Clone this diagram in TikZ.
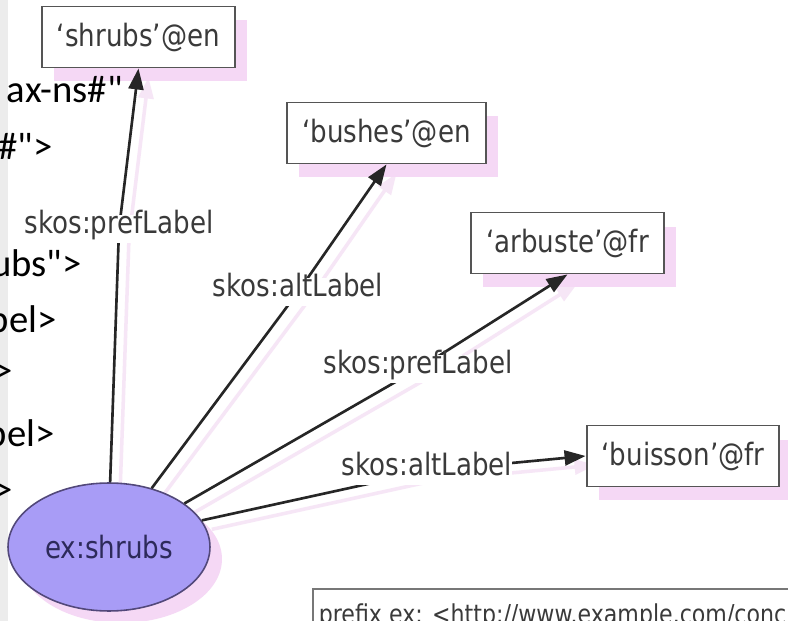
\documentclass[tikz,border=0pt]{standalone}
\usepackage{fontspec}
\setsansfont{DejaVu Sans}[FakeStretch=0.85]
\newfontfamily\codefont{Carlito}
\usepackage{tikz}
\usetikzlibrary{positioning, arrows.meta, shapes.geometric, shadows}

\definecolor{conceptfill}{RGB}{168,156,246}
\definecolor{conceptline}{RGB}{82,72,122}
\definecolor{conceptink}{RGB}{45,42,90}
\definecolor{shadowpink}{RGB}{245,216,245}
\definecolor{linkpink}{RGB}{246,230,246}
\definecolor{boxline}{RGB}{85,85,85}
\definecolor{inkgray}{RGB}{58,58,58}
\definecolor{panelgray}{RGB}{236,236,236}

\pgfdeclarelayer{back}
\pgfdeclarelayer{front}
\pgfsetlayers{back,main,front}

\tikzset{
  code/.style={anchor=base east, inner sep=0pt, text=black,
    font=\codefont\fontsize{22}{26}\selectfont},
  literal/.style={draw=boxline, line width=1.1pt, fill=white,
    inner xsep=0.3cm, minimum height=1.22cm, text=inkgray,
    font=\sffamily\fontsize{17.5}{21}\selectfont,
    drop shadow={shadow xshift=0.24cm, shadow yshift=-0.28cm,
      fill=shadowpink, opacity=1}},
  concept/.style={ellipse, draw=conceptline, line width=0.9pt,
    fill=conceptfill, minimum width=4.04cm, minimum height=2.56cm,
    text=conceptink, font=\sffamily\fontsize{17.5}{21}\selectfont,
    drop shadow={shadow xshift=0.24cm, shadow yshift=-0.24cm,
      fill=shadowpink, opacity=1}},
  prop/.style={fill=white, inner xsep=0pt, inner ysep=0.1cm,
    text height=0.8em, text depth=0.25em, text=inkgray,
    font=\sffamily\fontsize{17.5}{21}\selectfont},
  link/.style={draw=black!85, line width=1.5pt,
    -{Triangle[length=0.42cm, width=0.3cm]}},
  linkshade/.style={draw=linkpink, line width=2pt,
    -{Triangle[length=0.42cm, width=0.3cm]},
    transform canvas={xshift=0.2cm, yshift=-0.18cm}},
  prefixbox/.style={draw=boxline!80, line width=0.9pt, fill=white,
    inner xsep=0.12cm, inner ysep=0.3cm, text=inkgray,
    font=\sffamily\fontsize{14.8}{18}\selectfont}
}

\begin{document}
\begin{tikzpicture}[x=0.02cm, y=-0.02cm]
  % page and the grey strip at the left edge
  \begin{pgfonlayer}{back}
    \fill[white] (0,0) rectangle (788,621);
    \fill[panelgray] (0,0) rectangle (8,621);
  \end{pgfonlayer}
  \useasboundingbox (0,0) rectangle (788,621);

  % literals
  \node[literal] (shrubsEn) at (138.5,37) {‘shrubs’@en};
  \node[literal] (bushesEn) at (386.5,133) {‘bushes’@en};
  \node[literal] (arbusteFr) at (567.5,243) {‘arbuste’@fr};
  \node[literal] (buissonFr) at (683,456) {‘buisson’@fr};

  % the concept
  \node[concept] (ex) at (109,547) {ex:shrubs};

  % property names, kept above the links
  \begin{pgfonlayer}{front}
    \node[prop] (pref1) at (119,229) {skos:prefLabel};
    \node[prop] (alt1) at (298,292) {skos:altLabel};
    \node[prop] (pref2) at (418,369) {skos:prefLabel};
    \node[prop] (alt2) at (427,471) {skos:altLabel};
  \end{pgfonlayer}

  % ends of the RDF/XML lines
  \begin{pgfonlayer}{front}
    \node[code] (ln1) at (123,103) {ax-ns\#"};
    \node[code] (ln2) at (53,160) {\#">};
    \node[code] (ln3) at (82,277) {ubs">};
    \node[code] (ln4) at (57,333) {bel>};
    \node[code] (ln5) at (13,384) {>};
    \node[code] (ln6) at (55,447) {bel>};
    \node[code] (ln7) at (13,502) {>};
  \end{pgfonlayer}

  % links
  \draw[link] (ex.89) -- (pref1.center) -- (shrubsEn.south);
  \draw[link] (ex.54) -- (alt1.center) -- (bushesEn.south);
  \draw[link] (ex.30) -- (pref2.center) -- (arbusteFr.south);
  \draw[link] (ex.16) -- (alt2.center) -- (buissonFr.west);

  % their pink shadows
  \begin{pgfonlayer}{back}
    \draw[linkshade] (ex.89) -- (pref1.center) -- (shrubsEn.south);
    \draw[linkshade] (ex.54) -- (alt1.center) -- (bushesEn.south);
    \draw[linkshade] (ex.30) -- (pref2.center) -- (arbusteFr.south);
    \draw[linkshade] (ex.16) -- (alt2.center) -- (buissonFr.west);
  \end{pgfonlayer}

  % prefix declaration
  \node[prefixbox, anchor=north west] (prefix) at (312,588)
    {prefix ex: <http://www.example.com/conc};
\end{tikzpicture}
\end{document}
